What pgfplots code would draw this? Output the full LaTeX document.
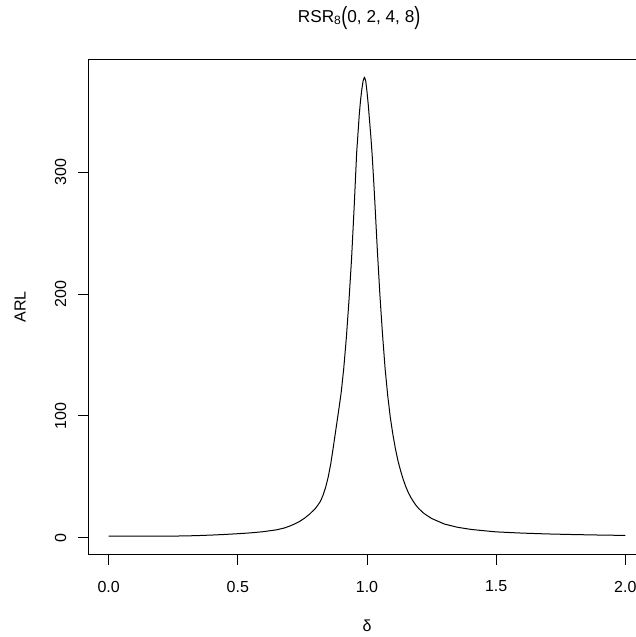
\documentclass[border=0pt]{standalone}
\usepackage{fontspec}
\setmainfont{Liberation Sans}
\usepackage{pgfplots}
\pgfplotsset{compat=1.18}
\pgfplotstableread{
d arl
0.00 1.30
0.10 1.31
0.20 1.33
0.25 1.36
0.30 1.5
0.35 1.8
0.40 2.2
0.45 2.7
0.50 3.3
0.55 4.0
0.60 5.0
0.65 6.5
0.68 8.0
0.70 9.5
0.72 11.3
0.74 13.5
0.76 16.3
0.78 19.8
0.80 24
0.81 26.8
0.82 30
0.83 35
0.84 41.5
0.85 50
0.86 61
0.87 75
0.88 89.5
0.89 104
0.90 119
0.91 139
0.92 164
0.93 194
0.94 228
0.95 270
0.96 316
0.97 347
0.975 359
0.98 368
0.985 375
0.99 378
0.995 375
1.00 366
1.005 355
1.01 342
1.015 329
1.02 314
1.025 296
1.03 277
1.04 236
1.05 199
1.06 167
1.07 139
1.08 117
1.09 99
1.10 85
1.11 73
1.12 63
1.13 55
1.14 48
1.15 42
1.16 37
1.17 33
1.18 29.5
1.19 26.5
1.20 24
1.22 20
1.25 15.8
1.30 11.2
1.35 8.6
1.40 6.9
1.45 5.8
1.50 4.8
1.60 3.8
1.70 3.1
1.80 2.6
1.90 2.2
2.00 1.9
}\arldata
\begin{document}
\begin{tikzpicture}
\begin{axis}[
  at={(88bp,82.5bp)}, anchor=south west,
  width=558bp, height=495.5bp, scale only axis,
  xmin=-0.08, xmax=2.08, ymin=-13.76, ymax=392.86,
  xtick={0,0.5,1,1.5,2}, ytick={0,100,200,300},
  xticklabels={0.0,0.5,1.0,1.5,2.0},
  yticklabels={0,100,200,300},
  xtick pos=lower, ytick pos=left,
  tick align=outside, major tick length=10bp,
  every tick/.style={black, line width=0.9bp},
  axis line style={line width=0.9bp},
  xticklabel style={font=\fontsize{16bp}{19bp}\selectfont, inner sep=0pt, anchor=north},
  yticklabel style={font=\fontsize{16bp}{19bp}\selectfont, inner sep=0pt, rotate=90, anchor=south},
  xticklabel shift=16.2bp,
  yticklabel shift=11.6bp,
]
\addplot[black, line width=1bp, no marks, line join=round] table[x=d, y=arl] {\arldata};
\end{axis}
\node[anchor=base west, inner sep=0pt, font=\fontsize{17.2bp}{20bp}\selectfont] at (297.7bp,614.7bp)
  {RSR\textsubscript{8}\raisebox{-2.2bp}{\scalebox{1.05}[1.45]{(}}0, 2, 4, 8\raisebox{-2.2bp}{\scalebox{1.05}[1.45]{)}}};
\node[font=\fontsize{16bp}{19bp}\selectfont] at (367bp,11bp) {δ};
\node[rotate=90, font=\fontsize{16bp}{19bp}\selectfont] at (20bp,330.3bp) {ARL};
\pgfresetboundingbox
\useasboundingbox (0,0) rectangle (636bp,637bp);
\end{tikzpicture}
\end{document}
